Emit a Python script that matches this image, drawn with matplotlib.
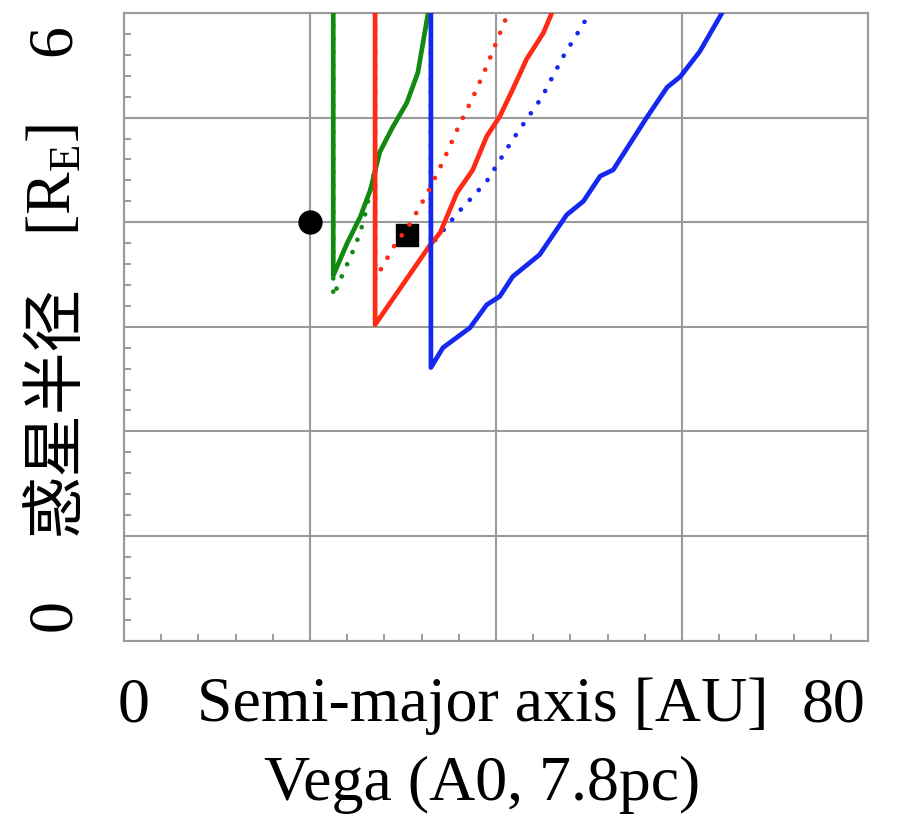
import matplotlib
matplotlib.use("Agg")
import matplotlib.pyplot as plt
from matplotlib.ticker import MultipleLocator

plt.rcParams['mathtext.fontset'] = 'custom'
plt.rcParams['mathtext.rm'] = 'Liberation Serif'

# detection limits (semi-major axis [AU], planet radius [R_E])
green_x = [22.5, 22.5, 24.0, 25.4, 26.5, 27.5, 28.9, 30.4, 31.6, 32.7]
green_y = [6.0, 3.49, 3.80, 4.05, 4.31, 4.67, 4.91, 5.14, 5.43, 6.0]
green_dot_x = [22.5, 22.5, 23.5, 24.6, 25.4, 26.0, 26.5, 26.9]
green_dot_y = [6.0, 3.29, 3.50, 3.72, 3.90, 4.10, 4.31, 4.48]

red_x = [27.0, 27.0, 32.9, 34.0, 35.8, 37.5, 39.0, 40.4, 41.8, 43.3, 45.1, 46.0]
red_y = [6.0, 3.02, 3.78, 3.90, 4.28, 4.50, 4.82, 5.01, 5.27, 5.56, 5.81, 6.0]
red_dot_x = [27.0, 27.0, 27.3, 29.1, 30.8, 32.7, 34.3, 35.9, 37.5, 39.0, 40.4, 41.3]
red_dot_y = [6.0, 3.45, 3.50, 3.78, 3.99, 4.29, 4.58, 4.90, 5.19, 5.49, 5.80, 6.0]

blue_x = [33.0, 33.0, 34.3, 37.2, 39.0, 40.4, 41.8, 44.7, 47.6, 49.4, 51.2, 52.6,
          56.2, 58.4, 59.8, 61.9, 64.3]
blue_y = [6.0, 2.61, 2.80, 2.99, 3.21, 3.29, 3.48, 3.69, 4.07, 4.20, 4.44, 4.50,
          5.00, 5.29, 5.39, 5.63, 6.0]
blue_dot_x = [33.0, 33.0, 35.9, 39.0, 41.8, 44.9, 47.2, 50.1]
blue_dot_y = [6.0, 3.78, 4.09, 4.39, 4.79, 5.19, 5.58, 6.0]

# known planet candidates
circle_x, circle_y = [20.0], [4.0]
square_x, square_y = [30.4], [3.88]

GREEN = '#128a12'
RED = '#ff2a14'
BLUE = '#1428f0'
GREY = '#9a9a9a'

W, H = 897, 826
fig = plt.figure(figsize=(W / 100, H / 100), dpi=100)
ax = fig.add_axes([124 / W, 185.5 / H, 744 / W, 627.5 / H])

dots = dict(linewidth=3.4, linestyle=(0, (0.01, 2.8)), dash_capstyle='round')
ax.plot(green_dot_x, green_dot_y, color=GREEN, zorder=3, **dots)
ax.plot(blue_dot_x, blue_dot_y, color=BLUE, zorder=3, **dots)
ax.plot(green_x, green_y, color=GREEN, linewidth=3.4, zorder=4)
ax.plot(red_x, red_y, color=RED, linewidth=3.4, zorder=4)
ax.plot(blue_x, blue_y, color=BLUE, linewidth=3.4, zorder=4)

ax.plot(circle_x, circle_y, 'o', color='black', markersize=16.5, zorder=5)
ax.plot(square_x, square_y, 's', color='black', markersize=16, zorder=5)
ax.plot(red_dot_x, red_dot_y, color=RED, zorder=6, **dots)

ax.set_xlim(0, 80)
ax.set_ylim(0, 6)
ax.xaxis.set_major_locator(MultipleLocator(20))
ax.xaxis.set_minor_locator(MultipleLocator(4))
ax.yaxis.set_major_locator(MultipleLocator(1))
ax.yaxis.set_minor_locator(MultipleLocator(0.2))
ax.set_xticklabels([])
ax.set_yticklabels([])
ax.tick_params(which='both', direction='in', color=GREY, width=1.4,
               top=False, right=False)
ax.tick_params(which='major', length=0)
ax.tick_params(which='minor', length=5)
ax.grid(True, which='major', color=GREY, linewidth=1.5)
ax.set_axisbelow(True)
for sp in ax.spines.values():
    sp.set_color(GREY)
    sp.set_linewidth(1.5)

serif = dict(family='Liberation Serif', fontsize=46, color='black')
fig.text(134 / W, 1 - 706 / H, '0', ha='center', va='center', **serif)
fig.text(833 / W, 1 - 706 / H, '80', ha='center', va='center', **serif)
fig.text(483 / W, 1 - 706 / H, 'Semi-major axis [AU]', ha='center', va='center', **serif)
fig.text(482 / W, 1 - 785 / H, 'Vega (A0, 7.8pc)', ha='center', va='center', **serif)

fig.text(55 / W, 1 - 40 / H, '6', ha='center', va='center', rotation=90, **serif)
fig.text(55 / W, 1 - 615 / H, '0', ha='center', va='center', rotation=90, **serif)
fig.text(55 / W, 1 - 180 / H, r'[R$_{\mathrm{E}}$]', ha='center', va='center',
         rotation=90, **serif)
fig.text(55 / W, 1 - 410 / H, '惑星半径', ha='center', va='center', rotation=90,
         family=['Noto Sans CJK SC', 'DejaVu Sans'], fontsize=45, color='black')

fig.savefig('out.png', dpi=100)
